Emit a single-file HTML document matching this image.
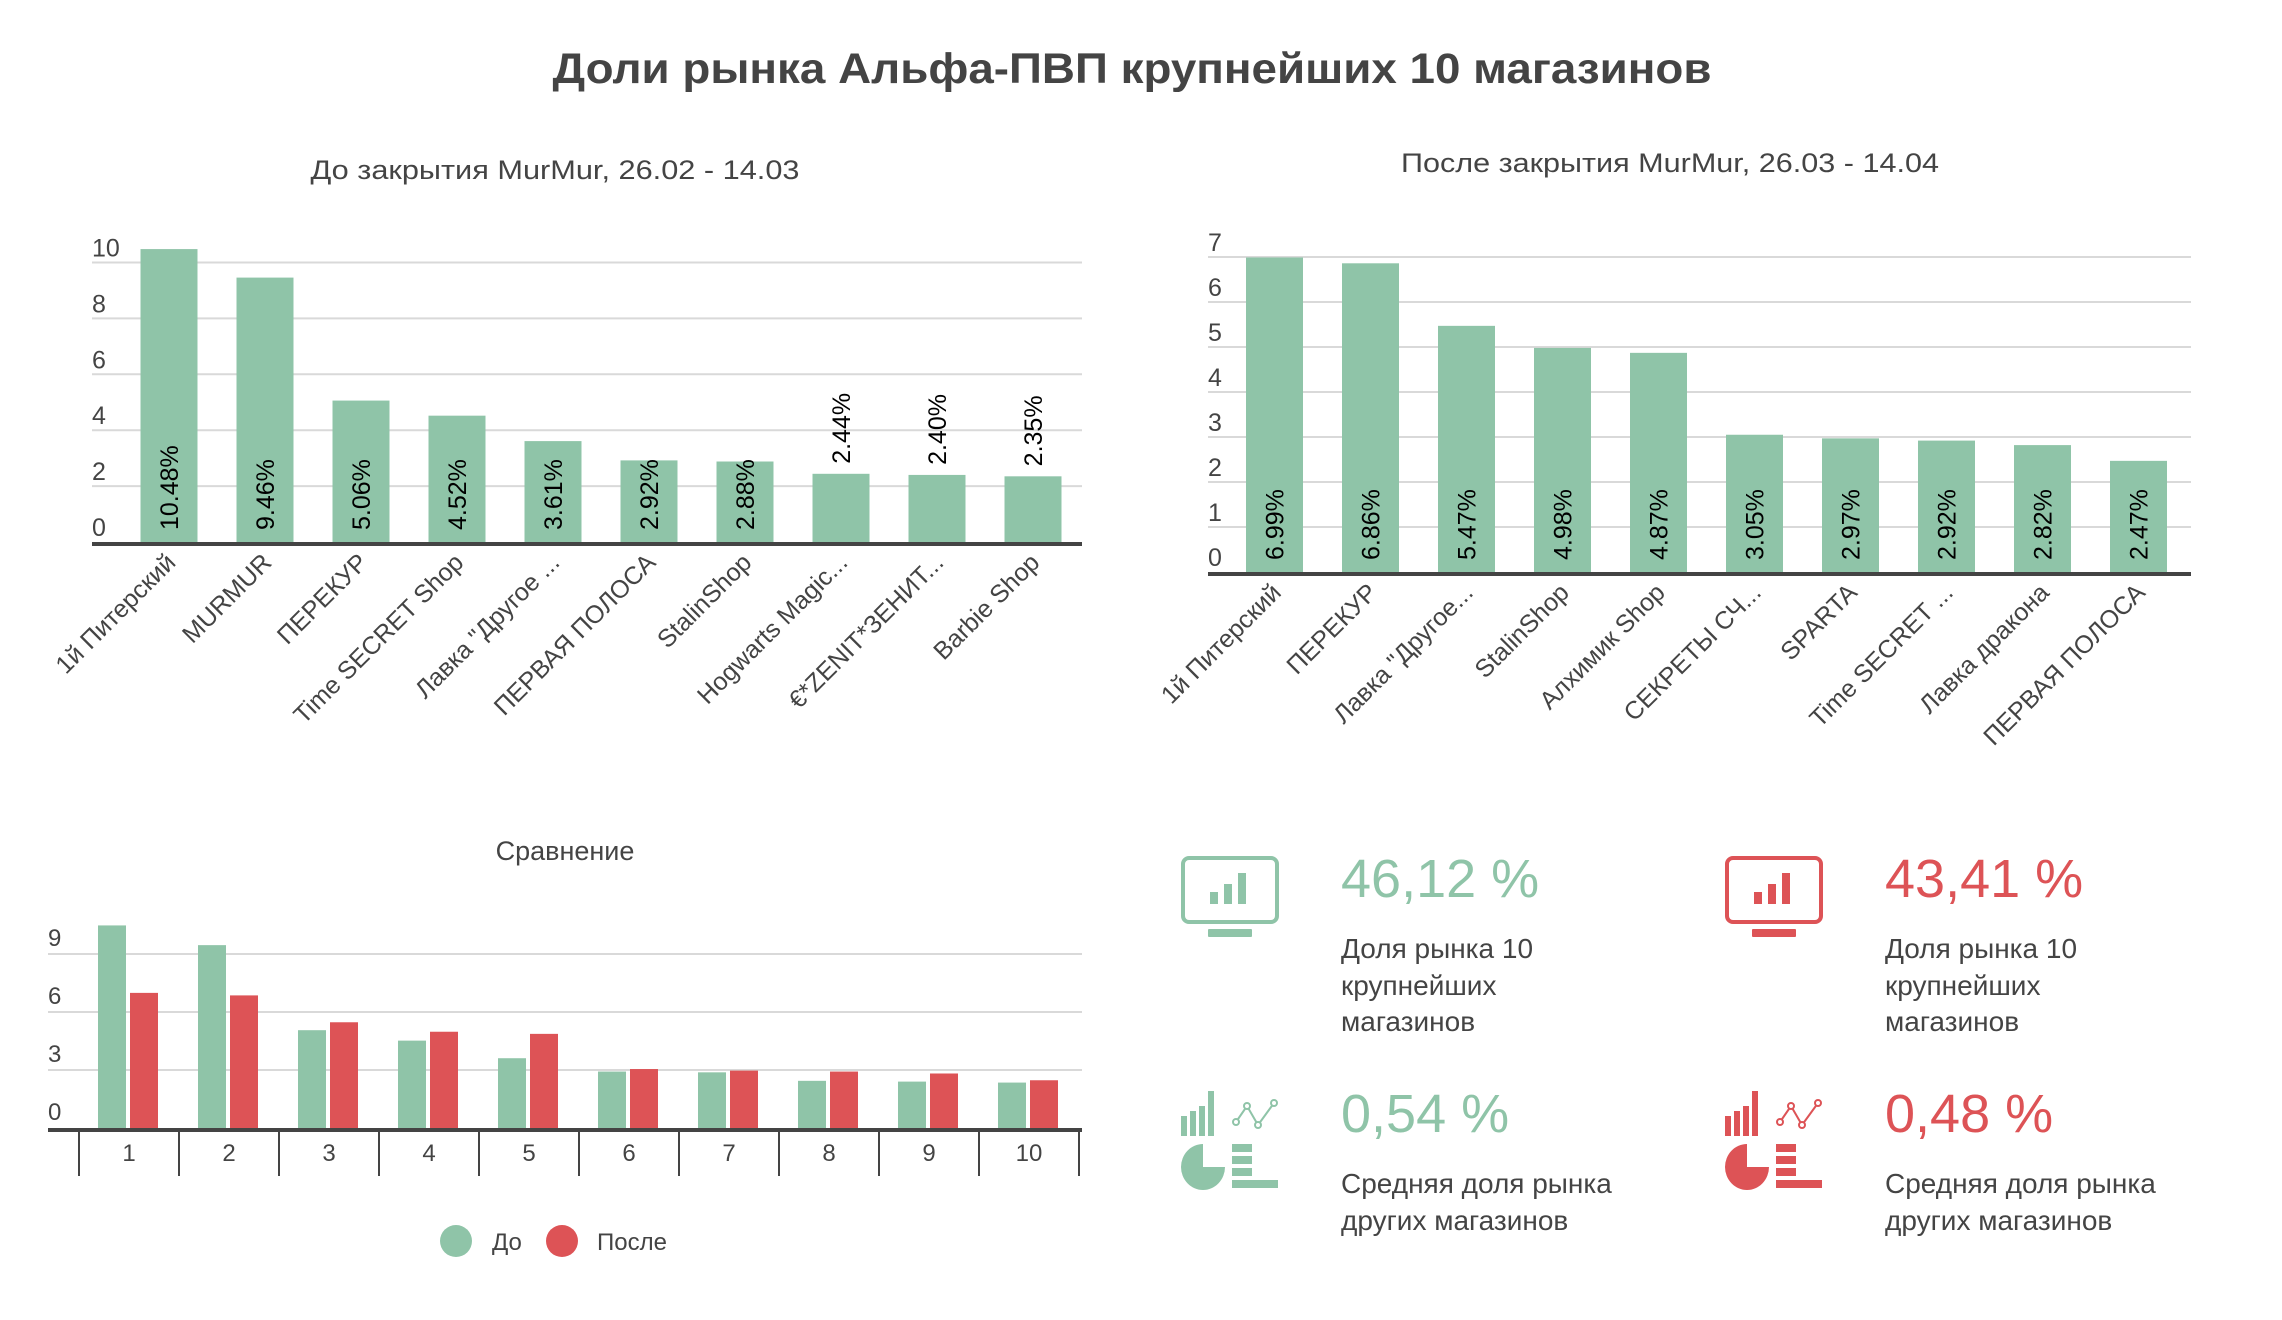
<!DOCTYPE html>
<html><head><meta charset="utf-8"><style>
html,body{margin:0;padding:0;background:#fff;}
svg{display:block;font-family:"Liberation Sans","DejaVu Sans",sans-serif;}
</style></head><body>
<svg id="svg" width="2282" height="1320" viewBox="0 0 2282 1320" xmlns="http://www.w3.org/2000/svg">
<text x="1132" y="83" text-anchor="middle" font-size="43" font-weight="bold" fill="#444" textLength="1159" lengthAdjust="spacingAndGlyphs">Доли рынка Альфа-ПВП крупнейших 10 магазинов</text>
<text x="555" y="179" text-anchor="middle" font-size="27" fill="#444" textLength="489" lengthAdjust="spacingAndGlyphs">До закрытия MurMur, 26.02 - 14.03</text>
<text x="1670" y="172" text-anchor="middle" font-size="27" fill="#444" textLength="538" lengthAdjust="spacingAndGlyphs">После закрытия MurMur, 26.03 - 14.04</text>
<text x="565" y="860" text-anchor="middle" font-size="27" fill="#444">Сравнение</text>
<g id="c1"></g>
<g id="c2"></g>
<g id="c3"></g>
<g>
 <g><circle cx="456" cy="1241" r="16" fill="#8fc4a8"/><text x="492" y="1250" font-size="24" fill="#444">До</text></g>
 <g><circle cx="562" cy="1241" r="16" fill="#dd5356"/><text x="597" y="1250" font-size="24" fill="#444">После</text></g>
</g>
<g>
 <g fill="#8fc4a8">
  <rect x="1183" y="858" width="94" height="64" rx="6" fill="none" stroke="#8fc4a8" stroke-width="4"/>
  <rect x="1208" y="929" width="44" height="8" rx="1"/>
  <rect x="1210" y="892" width="8" height="12"/><rect x="1224" y="884" width="8" height="20"/><rect x="1238" y="873" width="8" height="31"/>
 </g>
 <text x="1341" y="897" font-size="54" fill="#8fc4a8">46,12 %</text>
 <text font-size="28" fill="#444"><tspan x="1341" y="958">Доля рынка 10</tspan><tspan x="1341" y="995">крупнейших</tspan><tspan x="1341" y="1031">магазинов</tspan></text>
</g>
<g>
 <g fill="#dd5356">
  <rect x="1727" y="858" width="94" height="64" rx="6" fill="none" stroke="#dd5356" stroke-width="4"/>
  <rect x="1752" y="929" width="44" height="8" rx="1"/>
  <rect x="1754" y="892" width="8" height="12"/><rect x="1768" y="884" width="8" height="20"/><rect x="1782" y="873" width="8" height="31"/>
 </g>
 <text x="1885" y="897" font-size="54" fill="#dd5356">43,41 %</text>
 <text font-size="28" fill="#444"><tspan x="1885" y="958">Доля рынка 10</tspan><tspan x="1885" y="995">крупнейших</tspan><tspan x="1885" y="1031">магазинов</tspan></text>
</g>
<g>
 <g fill="#8fc4a8">
  <rect x="1181" y="1116" width="6" height="20"/><rect x="1190" y="1111" width="6" height="25"/><rect x="1199" y="1106" width="6" height="30"/><rect x="1208" y="1091" width="6" height="45"/>
  <polyline points="1236,1122 1247,1106 1258,1125 1274,1103" fill="none" stroke="#8fc4a8" stroke-width="2"/>
  <circle cx="1236" cy="1122" r="3" fill="#fff" stroke="#8fc4a8" stroke-width="2"/><circle cx="1247" cy="1106" r="3" fill="#fff" stroke="#8fc4a8" stroke-width="2"/><circle cx="1258" cy="1125" r="3" fill="#fff" stroke="#8fc4a8" stroke-width="2"/><circle cx="1274" cy="1103" r="3" fill="#fff" stroke="#8fc4a8" stroke-width="2"/>
  <path d="M1203,1144 A22,23 0 1 0 1225,1167 L1203,1167 Z"/>
  <rect x="1232" y="1144" width="20" height="8"/><rect x="1232" y="1156" width="20" height="8"/><rect x="1232" y="1168" width="20" height="8"/><rect x="1232" y="1180" width="46" height="8"/>
 </g>
 <text x="1341" y="1132" font-size="54" fill="#8fc4a8">0,54 %</text>
 <text font-size="28" fill="#444"><tspan x="1341" y="1193">Средняя доля рынка</tspan><tspan x="1341" y="1230">других магазинов</tspan></text>
</g>
<g>
 <g fill="#dd5356">
  <rect x="1725" y="1116" width="6" height="20"/><rect x="1734" y="1111" width="6" height="25"/><rect x="1743" y="1106" width="6" height="30"/><rect x="1752" y="1091" width="6" height="45"/>
  <polyline points="1780,1122 1791,1106 1802,1125 1818,1103" fill="none" stroke="#dd5356" stroke-width="2"/>
  <circle cx="1780" cy="1122" r="3" fill="#fff" stroke="#dd5356" stroke-width="2"/><circle cx="1791" cy="1106" r="3" fill="#fff" stroke="#dd5356" stroke-width="2"/><circle cx="1802" cy="1125" r="3" fill="#fff" stroke="#dd5356" stroke-width="2"/><circle cx="1818" cy="1103" r="3" fill="#fff" stroke="#dd5356" stroke-width="2"/>
  <path d="M1747,1144 A22,23 0 1 0 1769,1167 L1747,1167 Z"/>
  <rect x="1776" y="1144" width="20" height="8"/><rect x="1776" y="1156" width="20" height="8"/><rect x="1776" y="1168" width="20" height="8"/><rect x="1776" y="1180" width="46" height="8"/>
 </g>
 <text x="1885" y="1132" font-size="54" fill="#dd5356">0,48 %</text>
 <text font-size="28" fill="#444"><tspan x="1885" y="1193">Средняя доля рынка</tspan><tspan x="1885" y="1230">других магазинов</tspan></text>
</g>
</svg>
<script>
const beforeCats = ["1й Питерский","MURMUR","ПЕРЕКУР","Time SECRET Shop","Лавка \"Другое ...","ПЕРВАЯ ПОЛОСА","StalinShop","Hogwarts Magic...","€*ZENIT*ЗЕНИТ...","Barbie Shop"];
const beforeVals = [10.48,9.46,5.06,4.52,3.61,2.92,2.88,2.44,2.40,2.35];
const beforeTicks = [0,2,4,6,8,10];
const afterCats = ["1й Питерский","ПЕРЕКУР","Лавка \"Другое...","StalinShop","Алхимик Shop","СЕКРЕТЫ СЧ...","SPARTA","Time SECRET ...","Лавка дракона","ПЕРВАЯ ПОЛОСА"];
const afterVals = [6.99,6.86,5.47,4.98,4.87,3.05,2.97,2.92,2.82,2.47];
const afterTicks = [0,1,2,3,4,5,6,7];
const cmpCats = ["1","2","3","4","5","6","7","8","9","10"];
const cmpTicks = [0,3,6,9];

const NS="http://www.w3.org/2000/svg";
const GREEN="#8fc4a8", RED="#dd5356";
function mk(parent,tag,attrs,text){const e=document.createElementNS(NS,tag);for(const k in attrs)e.setAttribute(k,attrs[k]);if(text!==undefined)e.textContent=text;parent.appendChild(e);return e;}

function barChart(g,cats,vals,ticks,o){
  const y=v=>o.base-v*o.unit;
  const x=i=>o.x0+o.first+i*o.step;
  ticks.forEach(t=>{
    if(t>0){const l=mk(g,'line',{x1:o.x0,x2:o.x1,y1:y(t),y2:y(t),stroke:'#d9d9d9','stroke-width':2});
    
    }
    const tx=mk(g,'text',{x:o.x0,y:y(t)-6,'font-size':25,fill:'#444'},String(t));
    
    
  });
  vals.forEach((v,i)=>{
    const r=mk(g,'rect',{x:x(i),y:y(v),width:o.bw,height:o.base-y(v),fill:GREEN});
    
    
    const cx=x(i)+o.bw/2+9;
    const lbl=v.toFixed(2)+'%';
    const len=lbl.length*12.5;
    let ly=o.base-12;
    if(o.base-y(v) < len+14) ly=y(v)-10;
    const t=mk(g,'text',{x:cx,y:ly,'font-size':25,fill:'#000',transform:`rotate(-90 ${cx} ${ly})`},lbl);
    
    
    const ax=x(i)+o.bw/2+8, ay=o.base+22;
    const c=mk(g,'text',{x:ax,y:ay,'font-size':25,fill:'#444','text-anchor':'end',transform:`rotate(-45 ${ax} ${ay})`},cats[i]);
    
    
  });
  const a=mk(g,'line',{x1:o.x0,x2:o.x1,y1:o.base+2,y2:o.base+2,stroke:'#444','stroke-width':4});
  
  
}
barChart(document.getElementById('c1'),beforeCats,beforeVals,beforeTicks,{x0:92,x1:1082,base:542,unit:27.95,first:48.5,step:96,bw:57});
barChart(document.getElementById('c2'),afterCats,afterVals,afterTicks,{x0:1208,x1:2191,base:572,unit:45,first:38,step:96,bw:57});

(function(){
  const g=document.getElementById('c3');
  const base=1128, unit=19.33, x0=48, x1=1082, first=79, step=100;
  const y=v=>base-v*unit;
  cmpTicks.forEach(t=>{
    if(t>0){const l=mk(g,'line',{x1:x0,x2:x1,y1:y(t),y2:y(t),stroke:'#d9d9d9','stroke-width':2});
    
    }
    const tx=mk(g,'text',{x:x0,y:y(t)-8,'font-size':24,fill:'#444'},String(t));
    
    
  });
  cmpCats.forEach((c,i)=>{
    const cx=first+i*step;
    const b=mk(g,'rect',{x:cx+19,y:y(beforeVals[i]),width:28,height:base-y(beforeVals[i]),fill:GREEN});
    
    
    const r=mk(g,'rect',{x:cx+51,y:y(afterVals[i]),width:28,height:base-y(afterVals[i]),fill:RED});
    
    
    const tk=mk(g,'line',{x1:cx,x2:cx,y1:base,y2:1176,stroke:'#444','stroke-width':2});
    
    
    const t=mk(g,'text',{x:cx+step/2,y:1161,'font-size':24,fill:'#444','text-anchor':'middle'},c);
    
    
  });
  const tk=mk(g,'line',{x1:first+10*step,x2:first+10*step,y1:base,y2:1176,stroke:'#444','stroke-width':2});
  
  
  const a=mk(g,'line',{x1:x0,x2:x1,y1:base+2,y2:base+2,stroke:'#444','stroke-width':4});
  
  
})();
</script>
</body></html>
